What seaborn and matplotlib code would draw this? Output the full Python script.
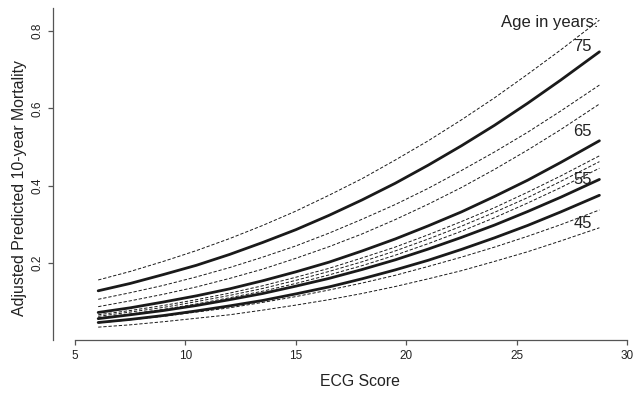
import matplotlib
matplotlib.use("Agg")
import matplotlib.pyplot as plt
import seaborn as sns
import pandas as pd

# ---- data ----
ecg = [6.05, 7.5, 9, 10.5, 12, 13.5, 15, 16.5, 18, 19.5, 21, 22.5, 24, 25.5, 27, 28.75]

ages = ["45", "55", "65", "75"]

pred_45 = [0.046, 0.054, 0.064, 0.076, 0.089, 0.103, 0.120, 0.138, 0.159, 0.182, 0.207, 0.235, 0.265, 0.297, 0.332, 0.375]
lo_45   = [0.034, 0.040, 0.048, 0.057, 0.066, 0.078, 0.091, 0.105, 0.121, 0.139, 0.159, 0.180, 0.204, 0.229, 0.257, 0.291]
hi_45   = [0.062, 0.073, 0.085, 0.100, 0.116, 0.134, 0.155, 0.178, 0.203, 0.231, 0.262, 0.295, 0.331, 0.369, 0.411, 0.462]

pred_55 = [0.056, 0.066, 0.077, 0.090, 0.105, 0.121, 0.140, 0.160, 0.183, 0.208, 0.236, 0.266, 0.298, 0.333, 0.370, 0.416]
lo_55   = [0.045, 0.053, 0.062, 0.073, 0.084, 0.098, 0.113, 0.130, 0.148, 0.168, 0.191, 0.215, 0.241, 0.269, 0.299, 0.337]
hi_55   = [0.066, 0.077, 0.090, 0.105, 0.122, 0.141, 0.163, 0.186, 0.213, 0.241, 0.273, 0.307, 0.343, 0.383, 0.425, 0.477]

pred_65 = [0.072, 0.084, 0.099, 0.115, 0.133, 0.154, 0.177, 0.202, 0.231, 0.262, 0.296, 0.332, 0.372, 0.414, 0.460, 0.516]
lo_65   = [0.058, 0.068, 0.080, 0.094, 0.110, 0.127, 0.147, 0.169, 0.193, 0.220, 0.250, 0.282, 0.317, 0.355, 0.395, 0.445]
hi_65   = [0.087, 0.102, 0.119, 0.138, 0.160, 0.184, 0.212, 0.242, 0.275, 0.312, 0.352, 0.395, 0.442, 0.492, 0.545, 0.611]

pred_75 = [0.128, 0.147, 0.170, 0.194, 0.222, 0.253, 0.286, 0.323, 0.363, 0.406, 0.453, 0.503, 0.556, 0.613, 0.673, 0.746]
lo_75   = [0.106, 0.123, 0.142, 0.164, 0.188, 0.215, 0.244, 0.277, 0.313, 0.351, 0.393, 0.439, 0.487, 0.538, 0.593, 0.660]
hi_75   = [0.156, 0.178, 0.204, 0.232, 0.263, 0.297, 0.334, 0.375, 0.418, 0.466, 0.516, 0.570, 0.627, 0.688, 0.751, 0.828]

x_ticks = [5, 10, 15, 20, 25, 30]
y_ticks = [0.2, 0.4, 0.6, 0.8]
label_y = {"75": 0.761, "65": 0.539, "55": 0.417, "45": 0.301}

curves = {
    "45": (pred_45, lo_45, hi_45),
    "55": (pred_55, lo_55, hi_55),
    "65": (pred_65, lo_65, hi_65),
    "75": (pred_75, lo_75, hi_75),
}

rows = []
for age in ages:
    p, lo, hi = curves[age]
    for name, vals in (("pred", p), ("lo", lo), ("hi", hi)):
        for xv, yv in zip(ecg, vals):
            rows.append({"ecg": xv, "prob": yv, "age": age, "kind": name,
                         "curve": f"{age}_{name}"})
df = pd.DataFrame(rows)

# ---- style ----
sns.set_style("white")
plt.rcParams["font.family"] = ["Liberation Sans", "DejaVu Sans"]

fig = plt.figure(figsize=(6.34, 3.95), dpi=100)
W, H = 634, 395
ax_left, ax_right, ax_top, ax_bottom = 53, 634, 8, 340.3
ax = fig.add_axes([ax_left / W, (H - ax_bottom) / H,
                   (ax_right - ax_left) / W, (ax_bottom - ax_top) / H])

ink = "#1a1a1a"
for curve, sub in df.groupby("curve", sort=False):
    kind = sub["kind"].iloc[0]
    if kind == "pred":
        sns.lineplot(data=sub, x="ecg", y="prob", ax=ax, color=ink, lw=2.0,
                     estimator=None, sort=True, legend=False)
    else:
        sns.lineplot(data=sub, x="ecg", y="prob", ax=ax, color=ink, lw=0.7,
                     linestyle=(0, (3.4, 1.9)), estimator=None, sort=True,
                     legend=False)

px_per_x = (627 - 75) / 25.0
ax.set_xlim(5 - (75 - ax_left) / px_per_x, 5 + (ax_right - 75) / px_per_x)
ax.set_ylim(0, (ax_bottom - ax_top) / 386.7)

ax.set_xticks(x_ticks)
ax.set_xticklabels([str(t) for t in x_ticks])
ax.set_yticks(y_ticks)
ax.set_yticklabels([f"{t:.1f}" for t in y_ticks], rotation=90, va="center")

spine_c = "#555555"
for s in ("top", "right"):
    ax.spines[s].set_visible(False)
ax.spines["left"].set_color(spine_c)
ax.spines["bottom"].set_color(spine_c)
ax.spines["left"].set_linewidth(0.9)
ax.spines["bottom"].set_linewidth(0.9)
ax.spines["bottom"].set_bounds(5, 30)

ax.tick_params(axis="x", bottom=True, direction="out", length=3.3, width=0.9,
               color=spine_c, labelsize=8.5, pad=4, labelcolor="#222222")
ax.tick_params(axis="y", left=True, direction="out", length=3.6, width=0.9,
               color=spine_c, labelsize=8.5, pad=3, labelcolor="#222222")

ax.set_xlabel("ECG Score", fontsize=11.4, color="#222222")
ax.xaxis.set_label_coords((360 - ax_left) / (ax_right - ax_left),
                          -(381 - ax_bottom) / (ax_bottom - ax_top))
ax.xaxis.label.set_va("center")
ax.set_ylabel("Adjusted Predicted 10-year Mortality", fontsize=11.4,
              color="#222222", va="center")
ax.yaxis.set_label_coords(-(ax_left - 20) / (ax_right - ax_left),
                          (ax_bottom - 187.5) / (ax_bottom - ax_top))

x_lab = 5 + (591.7 - 75) / px_per_x
x_head = 5 + (598 - 75) / px_per_x
ax.text(x_head, (340.3 - 22) / 386.7, "Age in years:", ha="right", va="center",
        fontsize=12, color="#222222")
for age in ages:
    ax.text(x_lab, label_y[age], age, ha="right", va="center", fontsize=12,
            color="#222222")

fig.savefig("out.png", dpi=100)
